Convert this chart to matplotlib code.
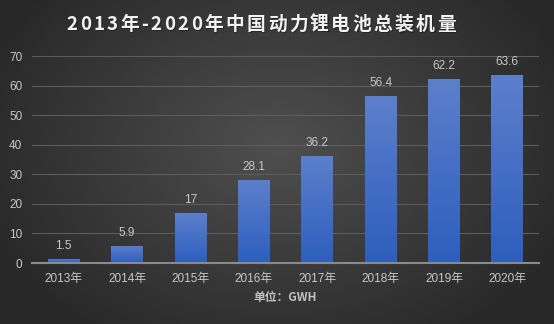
import numpy as np
import matplotlib.pyplot as plt

plt.rcParams['font.family'] = ['Noto Sans CJK SC', 'DejaVu Sans']
latin = ['Liberation Sans', 'Noto Sans CJK SC']

years = ['2013年', '2014年', '2015年', '2016年', '2017年', '2018年', '2019年', '2020年']
values = [1.5, 5.9, 17, 28.1, 36.2, 56.4, 62.2, 63.6]
value_labels = ['1.5', '5.9', '17', '28.1', '36.2', '56.4', '62.2', '63.6']
yticks = [0, 10, 20, 30, 40, 50, 60, 70]

W, H = 554, 324
fig = plt.figure(figsize=(W / 100, H / 100), dpi=100)

# radial background
bg = fig.add_axes([0, 0, 1, 1])
yy, xx = np.mgrid[0:H, 0:W]
r = np.sqrt(((xx - W * 0.5) / (W * 0.6)) ** 2 + ((yy - H * 0.45) / (H * 0.75)) ** 2)
shade = np.clip(0.31 - 0.16 * r, 0.16, 0.31)
bg.imshow(np.dstack([shade, shade, shade]), aspect='auto', extent=[0, 1, 0, 1], origin='upper')
bg.set_xlim(0, 1)
bg.set_ylim(0, 1)
bg.axis('off')

ax = fig.add_axes([32 / W, (H - 263) / H, (539 - 32) / W, (263 - 56) / H])
ax.patch.set_alpha(0)
x = np.arange(len(years))

grad = np.linspace(0, 1, 256).reshape(-1, 1)
top = np.array([0.36, 0.50, 0.80])
bot = np.array([0.18, 0.37, 0.74])
img = bot + (top - bot) * grad[..., None]
bars = ax.bar(x, values, width=0.5, color='none', edgecolor='none', zorder=3)
for b, v, lab in zip(bars, values, value_labels):
    x0 = b.get_x()
    w = b.get_width()
    im = ax.imshow(img, extent=[x0, x0 + w, 0, v], origin='lower', aspect='auto', zorder=3)
    im.set_clip_path(b)
    ax.text(x0 + w / 2, v + 2.3, lab, ha='center', va='bottom', color='#c8c8c8',
            fontsize=8.5, family=latin)

ax.set_xlim(-0.5, len(years) - 0.5)
ax.set_ylim(0, 70)
ax.set_xticks(x)
ax.set_xticklabels(years, family=latin)
ax.set_yticks(yticks)
ax.set_yticklabels([str(t) for t in yticks], family=latin)
ax.tick_params(colors='#c8c8c8', labelsize=8.5, length=0)
ax.tick_params(axis='y', pad=7)
ax.tick_params(axis='x', pad=7)
ax.grid(axis='y', color='#5c5c5c', linewidth=0.8, zorder=0)
ax.set_axisbelow(True)
for s in ['top', 'right', 'left']:
    ax.spines[s].set_visible(False)
ax.spines['bottom'].set_color('#8a8a8a')
ax.spines['bottom'].set_linewidth(1.5)
ax.spines['bottom'].set_zorder(4)

# title with letter spacing
title = '2013年-2020年中国动力锂电池总装机量'
fig.canvas.draw()
renderer = fig.canvas.get_renderer()
gap = 2.4
widths = []
for ch in title:
    t = fig.text(0, 0, ch, fontsize=13.5, fontweight='bold')
    widths.append(t.get_window_extent(renderer).width)
    t.remove()
total = sum(widths) + gap * (len(title) - 1)
cx = 261
pos = cx - total / 2
for ch, w in zip(title, widths):
    fig.text((pos + 1.2) / W, 1 - 25.5 / H, ch, ha='left', va='center', fontsize=13.5,
             fontweight='bold', color='#202020', alpha=0.7)
    fig.text(pos / W, 1 - 24 / H, ch, ha='left', va='center', fontsize=13.5,
             fontweight='bold', color='#f2f2f2')
    pos += w + gap

fig.text(285 / W, 1 - 297 / H, '单位：GWH', ha='center', va='center', fontsize=8.5,
         fontweight='bold', color='#c0c0c0')

fig.savefig('out.png', dpi=100)
